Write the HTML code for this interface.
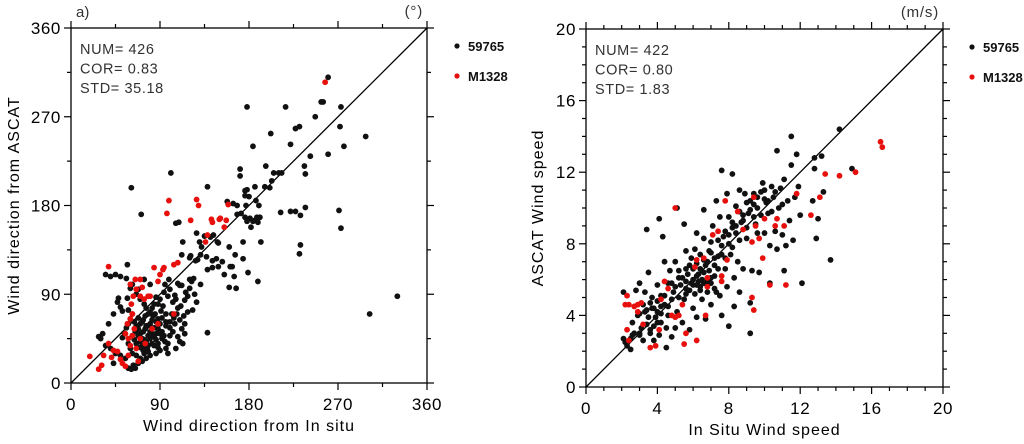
<!DOCTYPE html>
<html><head><meta charset="utf-8"><style>
body{margin:0;background:#fff;width:1024px;height:444px;overflow:hidden}
svg{display:block;font-family:"Liberation Sans",sans-serif}
</style></head><body>
<svg id="c" width="1024" height="444"></svg>
<script>
// ----- Panel a: wind direction -----
const dirTicks=[0,90,180,270,360];
const dirBlack=[[330,88],[302,70],[298,250],[260,310],[273,280],[272,260],[276,240],[260,232],[255,285],[253,285],[178,280],[217,280],[184,240],[202,253],[227,258],[231,260],[222,242],[236,220],[247,270],[242,230],[237,212],[197,220],[205,213],[210,213],[213,213],[203,205],[201,198],[196,199],[171,217],[171,210],[186,199],[178,196],[180,189],[190,180],[187,185],[177,180],[176,195],[176,190],[168,180],[164,182],[158,184],[172,172],[168,171],[176,168],[181,167],[184,164],[186,165],[188,168],[191,168],[182,158],[178,164],[189,163],[212,173],[227,174],[232,170],[237,178],[222,174],[271,175],[273,157],[232,140],[231,131],[192,143],[174,143],[174,126],[166,130],[160,138],[149,142],[148,143],[144,150],[141,148],[135,149],[127,152],[137,128],[132,138],[130,143],[128,125],[126,124],[121,129],[113,143],[120,127],[112,130],[106,162],[109,163],[101,213],[61,198],[71,171],[138,199],[124,106],[122,103],[120,105],[131,100],[143,117],[138,115],[149,118],[161,118],[163,118],[160,97],[167,96],[179,112],[189,103],[165,108],[155,110],[147,126],[143,124],[153,123],[131,130],[95,100],[99,105],[108,101],[110,99],[112,99],[105,89],[106,85],[111,78],[115,84],[118,88],[125,90],[118,72],[127,82],[123,74],[107,70],[105,60],[100,62],[96,70],[91,73],[93,78],[88,80],[86,87],[90,85],[85,70],[80,60],[78,58],[75,55],[73,52],[70,50],[68,48],[72,45],[76,42],[80,45],[82,40],[84,38],[77,35],[73,33],[70,36],[66,40],[64,44],[62,48],[65,52],[68,55],[70,60],[73,64],[75,68],[78,70],[80,72],[83,68],[86,62],[88,55],[86,50],[84,47],[90,50],[92,45],[95,42],[98,40],[100,48],[103,52],[108,47],[110,42],[113,40],[115,50],[106,35],[96,35],[90,33],[86,30],[80,28],[76,25],[72,22],[68,20],[63,18],[65,15],[61,14],[55,25],[50,28],[45,30],[40,35],[35,38],[30,45],[28,47],[32,50],[38,60],[43,70],[47,82],[48,86],[50,77],[52,73],[58,74],[57,86],[60,96],[62,100],[56,106],[50,108],[45,110],[40,108],[35,110],[57,120],[74,105],[80,100],[68,95],[66,90],[70,85],[74,80],[76,76],[62,70],[60,65],[58,60],[56,56],[54,50],[52,46],[58,40],[60,35],[62,30],[66,28],[70,25],[74,30],[78,32],[82,50],[88,65],[90,60],[92,66],[96,58],[100,56],[104,66],[108,76],[103,82],[98,88],[94,92],[100,95],[138,51],[115,60],[112,55],[98,30],[88,40],[58,15],[43,20],[72,40],[74,44],[78,48],[80,52],[76,58],[72,62],[82,64],[84,56],[86,44],[88,36],[78,38],[74,36],[70,42],[66,58],[64,62],[68,66],[92,52],[94,48],[96,62],[102,70],[110,64],[114,68],[120,96],[116,92],[84,80],[82,76]];
const dirRed=[[19,27],[31,18],[28,14],[33,28],[38,40],[41,26],[43,33],[47,32],[50,24],[52,20],[55,17],[58,28],[60,38],[62,48],[64,55],[58,45],[55,50],[57,60],[60,65],[62,70],[61,80],[63,88],[66,95],[65,105],[60,100],[70,105],[72,97],[74,85],[70,88],[78,88],[80,88],[82,55],[75,40],[70,45],[66,35],[68,22],[88,103],[90,110],[93,115],[94,117],[104,120],[108,122],[84,117],[38,118],[97,172],[99,185],[127,186],[129,180],[121,165],[143,163],[136,143],[138,150],[150,166],[151,167],[157,165],[142,166],[159,181],[155,158],[104,70],[88,60],[257,305]];
// ----- Panel b: wind speed -----
const spdTicks=[0,4,8,12,16,20];
const spdBlack=[[2.1,5.3],[2.1,2.7],[2.2,2.5],[2.3,2.3],[2.5,2.1],[2.5,2.7],[2.6,3.6],[2.7,3.0],[2.8,5.4],[2.9,4.0],[3.0,5.8],[3.0,2.9],[3.1,3.3],[3.2,2.6],[3.3,4.2],[3.3,5.3],[3.4,8.8],[3.5,6.4],[3.5,3.9],[3.6,3.0],[3.7,5.0],[3.7,4.4],[3.8,2.6],[3.9,3.9],[4.0,5.7],[4.0,4.2],[4.1,9.4],[4.1,2.9],[4.2,3.6],[4.2,5.1],[4.3,8.4],[4.4,4.6],[4.4,7.0],[4.5,2.2],[4.5,3.3],[4.6,5.8],[4.6,4.5],[4.7,6.5],[4.8,2.8],[4.8,4.9],[4.9,5.3],[5.0,3.3],[5.0,7.0],[5.1,10.0],[5.1,4.2],[5.2,6.5],[5.3,5.7],[5.4,3.6],[5.4,6.1],[5.5,9.1],[5.5,4.9],[5.6,7.6],[5.6,5.5],[5.7,6.3],[5.8,3.2],[5.9,5.8],[5.9,7.2],[6.0,6.6],[6.0,4.4],[6.1,7.7],[6.1,5.2],[6.2,8.6],[6.2,3.9],[6.3,5.9],[6.3,6.3],[6.4,7.4],[6.4,5.6],[6.5,6.0],[6.5,4.9],[6.6,9.9],[6.6,8.3],[6.7,6.8],[6.7,3.8],[6.8,5.3],[6.9,7.6],[6.9,6.5],[7.0,8.1],[7.0,4.6],[7.1,9.0],[7.2,6.2],[7.3,10.4],[7.3,5.3],[7.4,7.3],[7.5,9.5],[7.5,5.1],[7.6,12.1],[7.6,4.0],[7.7,8.4],[7.8,6.6],[7.9,10.8],[7.9,5.6],[8.0,3.4],[8.0,9.5],[8.1,7.4],[8.2,11.9],[8.2,8.9],[8.3,6.1],[8.3,4.5],[8.4,10.1],[8.5,7.0],[8.6,11.0],[8.6,5.3],[8.7,9.2],[8.8,6.6],[8.9,10.8],[9.0,8.3],[9.1,9.7],[9.2,3.0],[9.2,4.7],[9.3,6.5],[9.4,10.2],[9.5,9.1],[9.6,8.6],[9.7,6.4],[9.8,10.9],[9.9,11.4],[10.0,8.6],[10.1,10.3],[10.2,9.7],[10.3,5.8],[10.3,7.9],[10.4,11.2],[10.5,10.6],[10.6,8.7],[10.7,13.2],[10.7,7.7],[10.8,10.0],[10.9,11.1],[11.0,8.5],[11.1,11.6],[11.1,6.5],[11.2,7.9],[11.3,10.4],[11.4,9.3],[11.5,14.0],[11.5,12.4],[11.6,8.2],[11.7,10.6],[11.8,13.0],[11.9,11.2],[12.0,9.6],[12.1,5.8],[12.8,12.8],[12.8,12.2],[12.7,10.4],[12.9,8.3],[13.0,9.4],[13.2,12.9],[13.3,10.9],[13.7,7.1],[14.2,14.4],[14.9,12.2],[5.6,5.9],[6.0,5.7],[6.4,5.4],[6.8,5.9],[7.2,6.8],[7.6,7.4],[8.0,8.0],[8.4,8.6],[8.8,9.3],[9.2,9.9],[9.6,10.6],[10.0,11.0],[5.0,5.6],[4.6,4.0],[4.2,4.1],[3.8,3.4],[3.4,3.5],[3.0,3.0],[2.6,2.9],[5.8,6.8],[6.2,6.9],[6.6,7.1],[7.0,7.5],[7.4,8.2],[7.8,8.7],[8.2,9.2],[8.6,9.8],[9.0,10.3],[9.4,10.8],[3.2,4.6],[3.6,4.7],[4.0,4.8],[4.4,5.1],[4.8,5.8],[5.2,6.1],[5.6,6.6],[6.0,6.0],[6.4,6.6],[6.8,7.0],[7.2,7.2],[7.6,7.9],[8.0,8.5],[8.4,9.0],[8.8,9.6],[9.2,10.4],[9.6,10.0],[10.0,10.5],[10.4,9.8],[3.0,4.1],[3.4,4.3],[3.8,4.4],[4.2,4.5],[5.8,5.4],[6.2,5.7],[6.6,5.8],[7.0,6.1],[7.4,6.6],[7.8,7.2],[8.2,7.8],[8.6,8.2],[9.0,8.9],[9.4,9.5],[9.8,9.6],[10.2,10.4],[10.6,10.9],[11.0,10.2],[5.2,5.0],[5.6,5.2],[4.0,3.6],[3.6,3.2],[7.0,5.8],[7.2,5.5],[6.6,6.4],[6.2,6.2]];
const spdRed=[[2.2,4.6],[2.3,5.1],[2.4,4.6],[2.7,4.5],[2.3,3.2],[2.4,2.6],[2.9,4.6],[2.9,4.2],[3.1,4.7],[3.2,3.5],[3.6,2.2],[3.9,2.3],[4.1,3.2],[4.2,4.9],[4.4,5.9],[4.6,5.5],[4.8,4.0],[5.0,3.9],[5.2,4.0],[5.0,10.0],[5.4,4.6],[5.6,3.0],[5.5,2.4],[6.2,2.6],[6.1,6.7],[6.2,7.1],[6.6,7.2],[6.7,4.0],[6.8,6.1],[6.8,5.6],[7.1,8.5],[7.4,8.7],[7.6,5.9],[7.6,6.2],[7.8,10.4],[7.9,7.1],[8.5,9.8],[8.8,8.8],[9.3,8.1],[9.3,5.0],[9.4,4.3],[9.4,10.6],[9.5,9.0],[9.7,8.3],[9.9,7.2],[10.0,9.4],[10.3,5.7],[10.6,9.0],[10.7,9.4],[11.1,9.0],[11.2,5.7],[11.8,10.8],[12.6,9.6],[13.1,10.6],[13.4,11.9],[14.2,11.8],[15.1,12.0],[16.5,13.7],[16.6,13.4]];

const NS='http://www.w3.org/2000/svg';
const svg=document.getElementById('c');
function el(tag,attrs,parent,text){const e=document.createElementNS(NS,tag);for(const k in attrs)e.setAttribute(k,attrs[k]);if(text!==undefined)e.textContent=text;(parent||svg).appendChild(e);return e;}

function panel(cfg){
  const g=el('g',{});
  
  
  const {x0,x1,y0,y1,max,minor}=cfg;
  const sx=v=>x0+(v/max)*(x1-x0);
  const sy=v=>y1-(v/max)*(y1-y0);
  for(let v=0;v<=max+1e-9;v+=minor){
    const major=cfg.ticks.some(t=>Math.abs(t-v)<1e-9);
    const L=major?7:4;
    const X=sx(v),Y=sy(v);
    el('line',{x1:X,y1:y1,x2:X,y2:y1+L,stroke:'#000','stroke-width':1.2},g);
    el('line',{x1:X,y1:y0,x2:X,y2:y0-L,stroke:'#000','stroke-width':1.2},g);
    el('line',{x1:x0,y1:Y,x2:x0-L,y2:Y,stroke:'#000','stroke-width':1.2},g);
    el('line',{x1:x1,y1:Y,x2:x1+L,y2:Y,stroke:'#000','stroke-width':1.2},g);
  }
  cfg.ticks.forEach(t=>{
    const a=el('text',{x:sx(t),y:y1+27,'text-anchor':'middle','font-size':17,fill:'#000','letter-spacing':'0.6'},g,String(t));
    
    
    const b=el('text',{x:x0-10,y:sy(t)+6,'text-anchor':'end','font-size':17,fill:'#000','letter-spacing':'0.6'},g,String(t));
    
    
  });
  const fr=el('rect',{x:x0,y:y0,width:x1-x0,height:y1-y0,fill:'none',stroke:'#000','stroke-width':1.3},g);
  
  
  const d=el('line',{x1:sx(0),y1:sy(0),x2:sx(max),y2:sy(max),stroke:'#000','stroke-width':1.3},g);
  
  
  cfg.black.forEach(p=>{const c=el('circle',{cx:sx(p[0]),cy:sy(p[1]),r:2.9,fill:'#111'},g);
    
    });
  cfg.red.forEach(p=>{const c=el('circle',{cx:sx(p[0]),cy:sy(p[1]),r:2.9,fill:'#e8100c'},g);
    
    });
  cfg.stats.forEach((s,i)=>{const t=el('text',{x:x0+9,y:y0+26+i*19.5,'font-size':14.5,fill:'#333','letter-spacing':'0.6'},g,s);
    
    });
  const xt=el('text',{x:(x0+x1)/2,y:y1+48,'text-anchor':'middle','font-size':16,fill:'#000','letter-spacing':'1'},g,cfg.xtitle);
  
  
  const cy=(y0+y1)/2;
  const yt=el('text',{x:cfg.ytx,y:cy,'text-anchor':'middle','font-size':16,fill:'#000','letter-spacing':'1',transform:`rotate(-90 ${cfg.ytx} ${cy})`},g,cfg.ytitle);
  
  
  const u=el('text',{x:x1-4,y:y0-12,'text-anchor':'end','font-size':15,fill:'#333','letter-spacing':'0.8'},g,cfg.unit);
  
  
  [['#111','59765'],['#e8100c','M1328']].forEach((L,i)=>{
    const lg=el('g',{},g);
    
    
    el('circle',{cx:cfg.legx,cy:y0+18+i*30,r:2.6,fill:L[0]},lg);
    el('text',{x:cfg.legx+11,y:y0+23+i*30,'font-size':13,'font-weight':'bold',fill:'#111'},lg,L[1]);
  });
}
panel({name:'direction-panel',x0:71,x1:427,y0:28,y1:383,max:360,minor:45,ticks:dirTicks,black:dirBlack,red:dirRed,
  stats:['NUM=  426','COR=  0.83','STD=  35.18'],xtitle:'Wind direction from In situ',ytitle:'Wind direction from ASCAT',ytx:19,unit:'(°)',legx:457});
panel({name:'speed-panel',x0:586,x1:943,y0:29,y1:387,max:20,minor:1,ticks:spdTicks,black:spdBlack,red:spdRed,
  stats:['NUM=  422','COR=  0.80','STD=  1.83'],xtitle:'In Situ Wind speed',ytitle:'ASCAT Wind speed',ytx:543,unit:'(m/s)',legx:972});
const a=el('text',{x:76,y:17,'font-size':15,fill:'#333'},svg,'a)');


</script>
</body></html>
